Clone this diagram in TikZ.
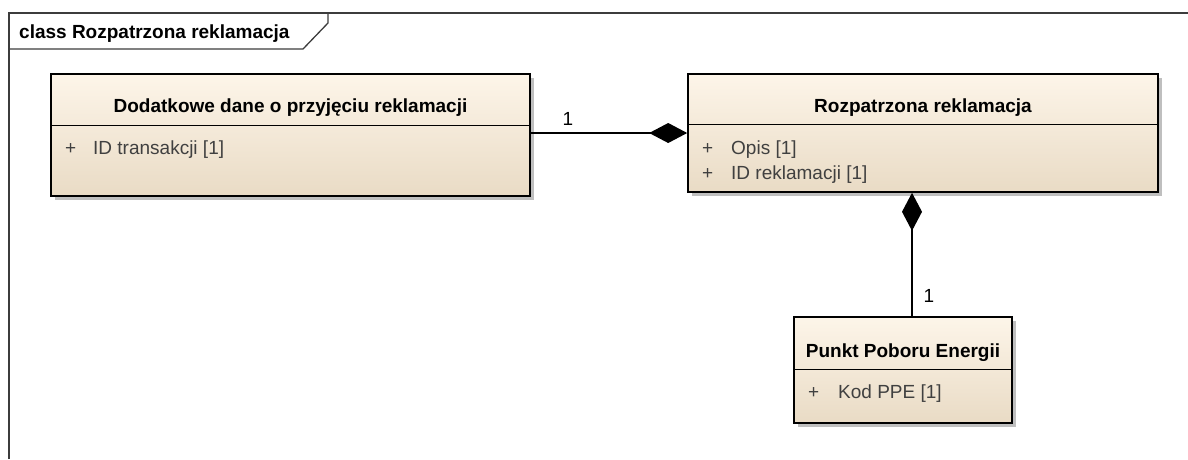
\documentclass[tikz,border=0pt]{standalone}
\usepackage{fontspec}
\setmainfont{Liberation Sans}
\usetikzlibrary{positioning,arrows.meta,shadows}
\definecolor{boxtop}{RGB}{253,245,233}
\definecolor{boxbot}{RGB}{233,219,197}
\definecolor{attrgray}{RGB}{64,64,64}
\definecolor{framegray}{RGB}{60,60,60}
\newcommand{\umlsize}{\fontsize{19}{23}\selectfont}
\tikzset{
  classbox/.style={draw, line width=1.6pt, top color=boxtop, bottom color=boxbot, inner sep=0pt,
    drop shadow={shadow xshift=4pt, shadow yshift=-4pt, fill=black!25, opacity=1}},
  divider/.style={line width=1.2pt},
  ctitle/.style={font=\umlsize\bfseries, anchor=base, inner sep=0pt},
  attr/.style={font=\umlsize, text=attrgray, anchor=base west, inner sep=0pt},
  multlabel/.style={font=\umlsize, anchor=base, inner sep=0pt},
  compose/.style={-{Diamond[length=38pt, width=20pt]}, line width=1.3pt},
  frameline/.style={draw=framegray, line width=1.3pt}
}
\begin{document}
\begin{tikzpicture}[x=1pt, y=-1pt]
  \useasboundingbox (0,0) rectangle (1188,459);
  % diagram frame and its name tab
  \draw[frameline] (9,459) -- (9,13) -- (1188,13);
  \draw[frameline] (9,49) -- (303,49) -- (328,23) -- (328,13);
  \node[ctitle, anchor=base west] (tab) at (19,38) {class Rozpatrzona reklamacja};

  % classes
  \node[classbox, minimum width=479pt, minimum height=122pt] (dod) at (290.5,135) {};
  \draw[divider] (dod.north west) ++(0,52) -- ++(479,0);
  \node[ctitle] (dodT) at (dod.north |- 0,112) {Dodatkowe dane o przyjęciu reklamacji};
  \node[attr] (dodP) at (65,154) {+};
  \node[attr] (dodA) at (93,154) {ID transakcji [1]};

  \node[classbox, minimum width=470pt, minimum height=118pt] (rozp) at (923,133) {};
  \draw[divider] (rozp.north west) ++(0,51) -- ++(470,0);
  \node[ctitle] (rozpT) at (rozp.north |- 0,112) {Rozpatrzona reklamacja};
  \node[attr] (rozpP1) at (702,154) {+};
  \node[attr] (rozpA1) at (731,154) {Opis [1]};
  \node[attr] (rozpP2) at (702,179) {+};
  \node[attr] (rozpA2) at (731,179) {ID reklamacji [1]};

  \node[classbox, minimum width=218pt, minimum height=106pt] (ppe) at (903,370) {};
  \draw[divider] (ppe.north west) ++(0,53) -- ++(218,0);
  \node[ctitle] (ppeT) at (ppe.north |- 0,357) {Punkt Poboru Energii};
  \node[attr] (ppeP) at (808,398) {+};
  \node[attr] (ppeA) at (838,398) {Kod PPE [1]};

  % compositions
  \draw[compose] (dod.east |- rozp.west) -- (rozp.west);
  \node[multlabel] (m1) at (568,125) {1};
  \draw[compose] ([xshift=9pt]ppe.north) -- ([xshift=9pt]ppe.north |- rozp.south);
  \node[multlabel] (m2) at (929,302) {1};
\end{tikzpicture}
\end{document}
